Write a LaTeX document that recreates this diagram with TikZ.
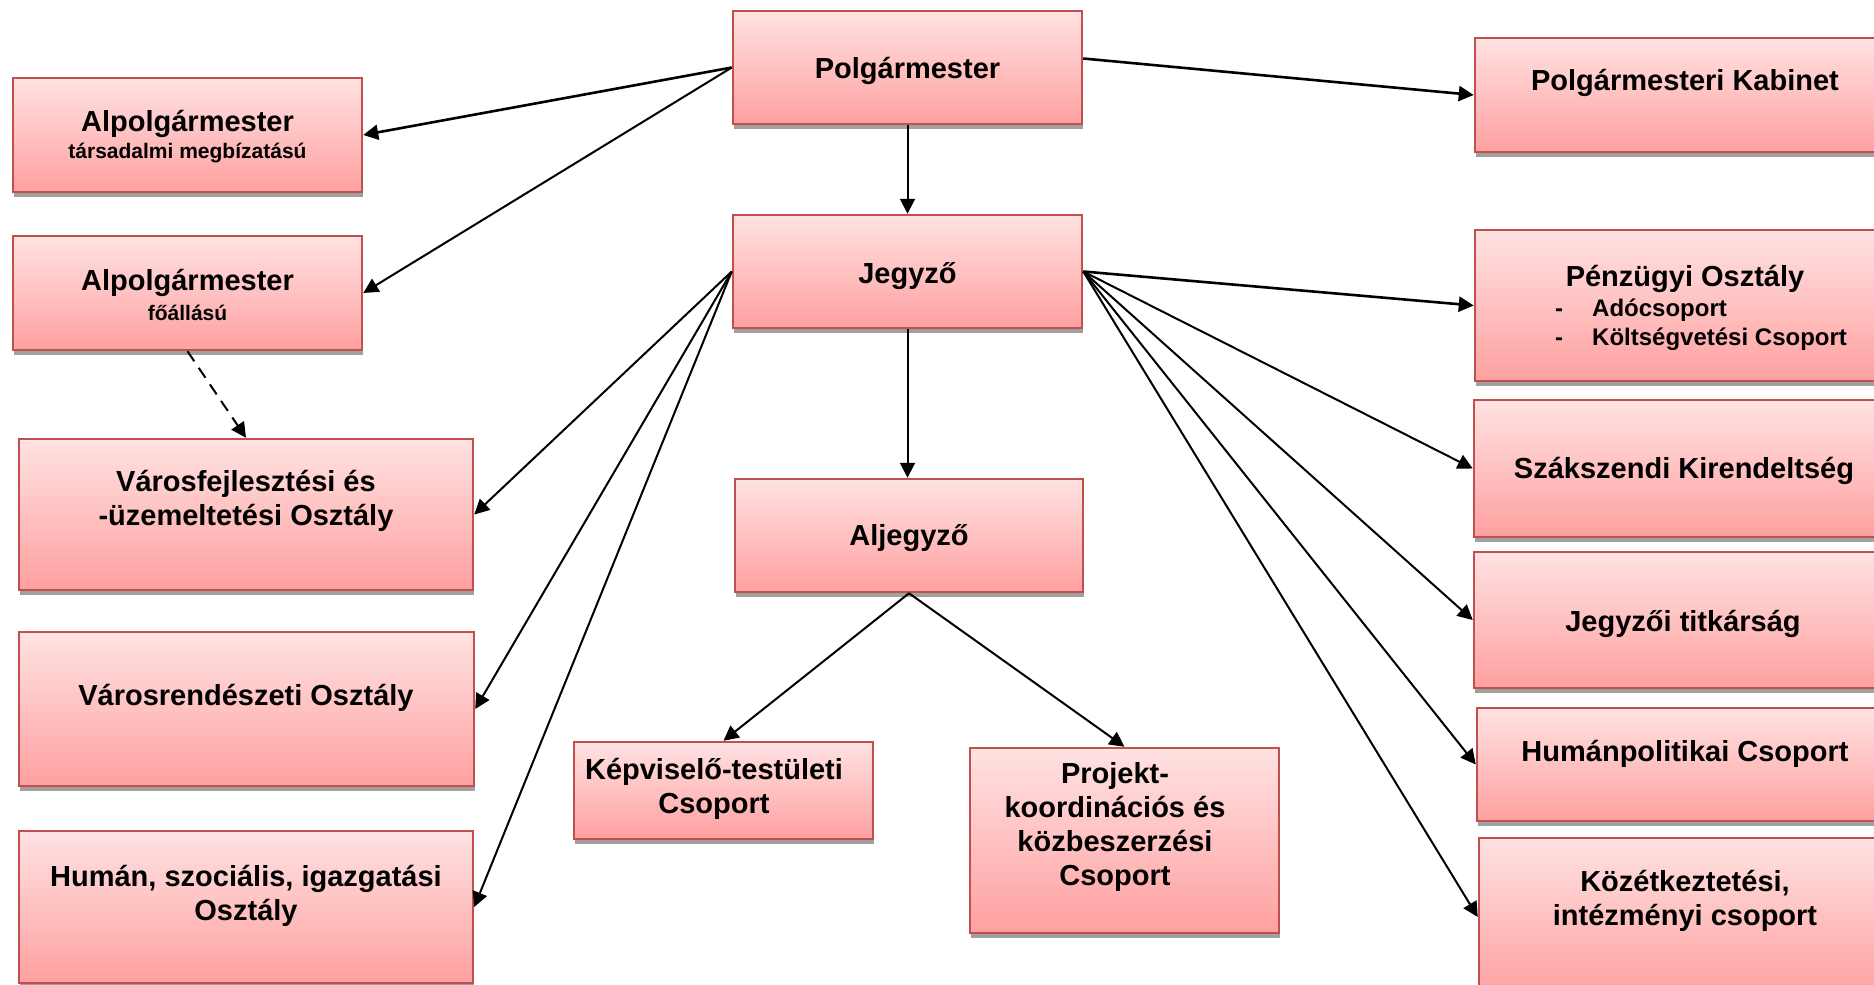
\documentclass[tikz,border=0pt]{standalone}
\usepackage{fontspec}
\setmainfont{Liberation Sans}
\usetikzlibrary{arrows.meta,shadows,fit}
\definecolor{bordred}{HTML}{C0504D}
\definecolor{boxtop}{HTML}{FFE2E2}
\definecolor{boxbot}{HTML}{FFA0A0}
\definecolor{shadowgray}{HTML}{A0A0A0}
\tikzset{
  orgbox/.style={draw=bordred, line width=2.5pt, top color=boxtop, bottom color=boxbot,
    inner sep=0pt, general shadow={fill=shadowgray, shadow xshift=1pt, shadow yshift=-5pt}},
  txt/.style={inner sep=0pt, align=center, font={\fontsize{29}{34}\selectfont\bfseries}},
  subtxt/.style={inner sep=0pt, align=center, font={\fontsize{21}{25}\selectfont\bfseries}},
  itemtxt/.style={inner sep=0pt, align=left, font={\fontsize{24}{29}\selectfont\bfseries}},
  conn/.style={line width=2pt, -{Triangle[length=15pt,width=15pt]}},
  thickconn/.style={conn, line width=2.6pt},
  dashconn/.style={conn, dash pattern=on 12pt off 8pt}
}
\begin{document}
\begin{tikzpicture}[x=1pt,y=-1pt]
\useasboundingbox (0,0) rectangle (1874,985);
\fill[white] (0,0) rectangle (1874,985);
\clip (0,0) rectangle (1874,985);

% boxes
\node[orgbox, fit={(733,11) (1082,124)}] (polg) {};
\node[orgbox, fit={(13,78) (362,192)}] (alp1) {};
\node[orgbox, fit={(13,236) (362,350)}] (alp2) {};
\node[orgbox, fit={(1475,38) (1895,152)}] (kab) {};
\node[orgbox, fit={(733,215) (1082,328)}] (jegy) {};
\node[orgbox, fit={(1475,230) (1895,381)}] (penz) {};
\node[orgbox, fit={(19,439) (473,590)}] (varf) {};
\node[orgbox, fit={(735,479) (1083,592)}] (alj) {};
\node[orgbox, fit={(1474,400) (1895,537)}] (szak) {};
\node[orgbox, fit={(19,632) (474,786)}] (varr) {};
\node[orgbox, fit={(1474,552) (1895,688)}] (titk) {};
\node[orgbox, fit={(574,742) (873,839)}] (kepv) {};
\node[orgbox, fit={(970,748) (1279,933)}] (proj) {};
\node[orgbox, fit={(1477,708) (1895,821)}] (humpol) {};
\node[orgbox, fit={(19,831) (473,983)}] (human) {};
\node[orgbox, fit={(1479,838) (1895,996)}] (kozet) {};

% texts
\node[txt] (t-polg) at (907.5,71) {Polgármester};
\node[txt] (t-alp1) at (187.5,124) {Alpolgármester};
\node[subtxt] (s-alp1) at (187.5,153) {társadalmi megbízatású};
\node[txt] (t-alp2) at (187.5,283) {Alpolgármester};
\node[subtxt] (s-alp2) at (187.5,313) {főállású};
\node[txt] (t-kab) at (1685,83) {Polgármesteri Kabinet};
\node[txt] (t-jegy) at (907.5,276) {Jegyző};
\node[txt] (t-penz) at (1685,279) {Pénzügyi Osztály};
\node[itemtxt, anchor=west] (i-penz) at (1555,324.5) {\makebox[37pt][l]{-}Adócsoport\\\makebox[37pt][l]{-}Költségvetési Csoport};
\node[txt] (t-varf) at (246,501) {Városfejlesztési és\\-üzemeltetési Osztály};
\node[txt] (t-alj) at (909,538) {Aljegyző};
\node[txt] (t-szak) at (1684,471) {Szákszendi Kirendeltség};
\node[txt] (t-varr) at (246,698) {Városrendészeti Osztály};
\node[txt] (t-titk) at (1683,624) {Jegyzői titkárság};
\node[txt] (t-kepv) at (714,789) {Képviselő-testületi\\Csoport};
\node[txt] (t-proj) at (1115,827) {Projekt-\\koordinációs és\\közbeszerzési\\Csoport};
\node[txt] (t-humpol) at (1685,754) {Humánpolitikai Csoport};
\node[txt] (t-human) at (246,896) {Humán, szociális, igazgatási\\Osztály};
\node[txt] (t-kozet) at (1685,901) {Közétkeztetési,\\intézményi csoport};

% connectors
\draw[thickconn] (polg.west) -- (alp1.east);
\draw[conn] (polg.west) -- (alp2.east);
\draw[thickconn] ([yshift=9pt]polg.east) -- (kab.west);
\draw[conn] (polg.south) -- (jegy.north);
\draw[conn] (jegy.south) -- (jegy.south |- alj.north);
\draw[dashconn] (alp2.south) -- (varf.north);
\draw[conn] (jegy.west) -- (varf.east);
\draw[conn] (jegy.west) -- (varr.east);
\draw[conn] (jegy.west) -- (human.east);
\draw[thickconn] (jegy.east) -- (penz.west);
\draw[conn] (jegy.east) -- (szak.west);
\draw[conn] (jegy.east) -- (titk.west);
\draw[conn] (jegy.east) -- (humpol.west);
\draw[conn] (jegy.east) -- (kozet.west);
\draw[conn] (alj.south) -- (kepv.north);
\draw[conn] (alj.south) -- (proj.north);
\end{tikzpicture}
\end{document}
